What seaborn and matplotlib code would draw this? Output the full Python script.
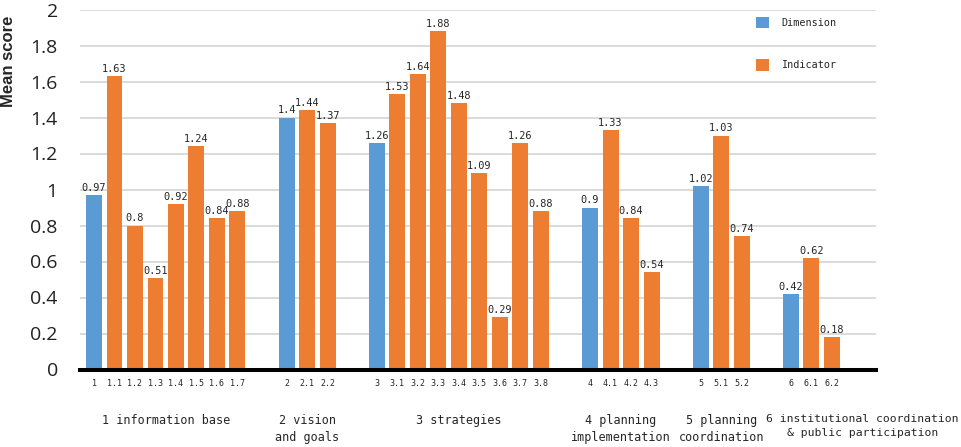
import pandas as pd
import matplotlib.pyplot as plt
import seaborn as sns
import numpy as np

# mean scores per dimension (blue) and indicator (orange)

codes = ['1', '1.1', '1.2', '1.3', '1.4', '1.5', '1.6', '1.7',
         '2', '2.1', '2.2',
         '3', '3.1', '3.2', '3.3', '3.4', '3.5', '3.6', '3.7', '3.8',
         '4', '4.1', '4.2', '4.3',
         '5', '5.1', '5.2',
         '6', '6.1', '6.2']
scores = [0.97, 1.63, 0.80, 0.51, 0.92, 1.24, 0.84, 0.88,
          1.40, 1.44, 1.37,
          1.26, 1.53, 1.64, 1.88, 1.48, 1.09, 0.29, 1.26, 0.88,
          0.90, 1.33, 0.84, 0.54,
          1.02, 1.30, 0.74,
          0.42, 0.62, 0.18]
# printed labels (5.1 is printed 1.03 in the original even if the bar is higher)
score_labels = ['0.97', '1.63', '0.8', '0.51', '0.92', '1.24', '0.84', '0.88',
                '1.4', '1.44', '1.37',
                '1.26', '1.53', '1.64', '1.88', '1.48', '1.09', '0.29', '1.26', '0.88',
                '0.9', '1.33', '0.84', '0.54',
                '1.02', '1.03', '0.74',
                '0.42', '0.62', '0.18']
group_names = ['1 information base', '2 vision\nand goals', '3 strategies',
               '4 planning\nimplementation', '5 planning\ncoordination',
               '6 institutional coordination\n& public participation']

blue = '#5B9BD5'
orange = '#ED7D31'
mono = 'DejaVu Sans Mono'

#_____________________________TRANSFORM_____________________________

df = pd.DataFrame({'code': codes, 'score': scores, 'label': score_labels})
df['group'] = df['code'].str.split('.').str[0].astype(int) - 1
df['kind'] = np.where(df['code'].str.contains(r'\.'), 'Indicator', 'Dimension')
df['pos'] = np.arange(len(df)) + df['group'] * 1.4   # extra space between groups

#_____________________________PLOT_____________________________

sns.set_style('white')
fig = plt.figure(figsize=(9.62, 4.47), dpi=100)
ax = fig.add_axes([80 / 962, 1 - 369.5 / 447, 796 / 962, 360 / 447])

sns.barplot(data=df, x='pos', y='score', hue='kind', native_scale=True, dodge=False,
            palette={'Dimension': blue, 'Indicator': orange}, saturation=1,
            hue_order=['Dimension', 'Indicator'], width=0.78, linewidth=0,
            ax=ax, zorder=2)

ax.set_ylim(0, 2)
ax.set_xlim(-0.683, 38.15)
ax.set_yticks(np.arange(0, 2.01, 0.2))
ax.set_yticklabels(['0', '0.2', '0.4', '0.6', '0.8', '1', '1.2', '1.4', '1.6', '1.8', '2'],
                   fontsize=14, family='Open Sans', color='#222222')
ax.yaxis.grid(True, color='#D4D4D4', linewidth=1.2, zorder=0)
ax.set_axisbelow(True)
ax.set_xticks(df['pos'])
ax.set_xticklabels(df['code'], fontsize=6, family=mono)
ax.tick_params(axis='x', length=0, pad=7)
ax.tick_params(axis='y', length=0, pad=16)
for s in ['left', 'right', 'top']:
    ax.spines[s].set_visible(False)
ax.spines['bottom'].set_linewidth(2.9)
ax.spines['bottom'].set_color('black')
ax.spines['bottom'].set_zorder(3)
ax.set_xlabel('')
ax.set_ylabel('')

# value labels
for p, v, t in zip(df['pos'], df['score'], df['label']):
    ax.text(p, v + 0.012, t, ha='center', va='bottom', fontsize=7.4, family=mono)

# group labels under the tick labels
shift = [0, 0, 0, 0, 0, 2.5]
sizes = [8.5, 8.5, 8.5, 8.5, 8.5, 8.2]
trans = ax.get_xaxis_transform()
for g, name in enumerate(group_names):
    center = df.loc[df['group'] == g, 'pos'].mean() + shift[g]
    ax.text(center, -0.1236, name, transform=trans, ha='center', va='top',
            fontsize=sizes[g], family=mono, linespacing=1.45, multialignment='center',
            clip_on=False)

fig.text(8.5 / 962, 1 - 61 / 447, 'Mean score', rotation=90, ha='center', va='center',
         fontsize=12, fontweight='bold', family='Liberation Sans')

handles, labels = ax.get_legend_handles_labels()
ax.legend(handles, labels, loc='upper left', bbox_to_anchor=(756 / 962, 1 - 17 / 447),
          bbox_transform=fig.transFigure, frameon=False, borderpad=0, borderaxespad=0,
          handlelength=1.3, handleheight=1.3, handletextpad=1.2, labelspacing=3.1,
          prop={'family': mono, 'size': 7.3})

plt.savefig('out.png', dpi=100)
